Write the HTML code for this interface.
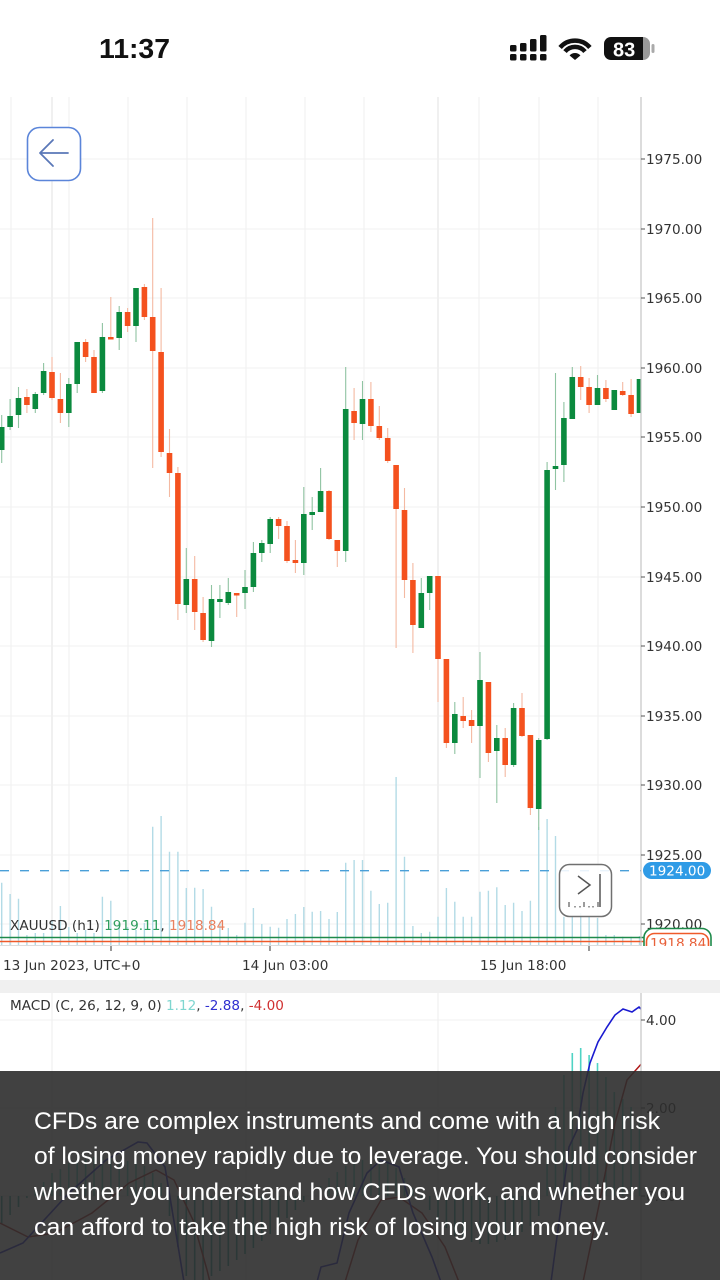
<!DOCTYPE html>
<html><head><meta charset="utf-8"><style>
html,body{margin:0;padding:0;background:#fff;width:720px;height:1280px;overflow:hidden}
svg{display:block}
.ax{font-family:"DejaVu Sans",Verdana,sans-serif;font-size:13.6px;fill:#333}
</style></head><body>
<svg width="720" height="1280" viewBox="0 0 720 1280" xmlns="http://www.w3.org/2000/svg">
<defs>
<clipPath id="cm"><rect x="0" y="97" width="641" height="849"/></clipPath>
<clipPath id="cp"><rect x="0" y="993" width="641" height="287"/></clipPath>
<clipPath id="cr"><rect x="641" y="900" width="79" height="46"/></clipPath>
<clipPath id="cb"><rect x="604" y="37" width="46" height="23" rx="7"/></clipPath>
</defs>
<rect width="720" height="1280" fill="#fff"/>

<!-- main grid -->
<g stroke-width="1">
<path d="M11 97V945M69 97V945M128 97V945M187 97V945M246 97V945M305 97V945M364 97V945M479 97V945M539 97V945M598 97V945" stroke="#efefef"/>
<path d="M52 97V945M438 97V945" stroke="#e2e2e2"/>
<path d="M0 159H641M0 229H641M0 298H641M0 368H641M0 437H641M0 507H641M0 577H641M0 646H641M0 716H641M0 785H641M0 855H641M0 924H641" stroke="#f0f0f0"/>
</g>

<g clip-path="url(#cm)">
<!-- volume -->
<path fill="none" stroke="#b3dbe6" stroke-width="1.4" d="M1.7 945V882.7M10.1 945V894M18.5 945V898.7M26.9 945V935M35.3 945V933M43.6 945V933M52 945V920M60.4 945V906M68.8 945V927M77.2 945V933M85.6 945V930M94 945V933M102.4 945V896.7M110.8 945V900.7M119.2 945V923M127.6 945V927M136 945V930M144.4 945V923M152.7 945V826.7M161.1 945V816M169.5 945V851.7M177.9 945V851.7M186.3 945V888M194.7 945V887.7M203.1 945V889M211.5 945V906.7M219.9 945V921.7M228.3 945V928M236.7 945V935M245 945V922.7M253.4 945V908M261.8 945V924M270.2 945V926.7M278.6 945V927.7M287 945V919M295.4 945V914M303.8 945V907M312.2 945V911.7M320.6 945V911M329 945V919M337.3 945V912M345.7 945V862.7M354.1 945V860M362.5 945V860M370.9 945V890.7M379.3 945V904M387.7 945V902.7M396.1 945V777M404.5 945V856.7M412.9 945V926M421.3 945V933M429.7 945V931.7M438 945V916.7M446.4 945V888M454.8 945V901.7M463.2 945V916.7M471.6 945V916.7M480 945V891.7M488.4 945V890.7M496.8 945V887.3M505.2 945V905M513.6 945V902.7M522 945V911M530.4 945V900.7M538.7 945V827M547.1 945V819M555.5 945V836M563.9 945V916.7M572.3 945V917M580.7 945V913M589.1 945V916.7M597.5 945V918M605.9 945V935M614.3 945V935M622.7 945V936.7M631.1 945V936.7M639.5 945V936"/>
<!-- dashed price line -->
<path d="M0 870.7H641" stroke="#4a9fd8" stroke-width="1.3" stroke-dasharray="9 11"/>
<!-- wicks -->
<path fill="none" stroke="#8fc4a2" stroke-width="1.1" d="M1.7 415V463M10.1 399V430M18.5 387V428M35.3 392V413M43.6 363V395M68.8 378V427M77.2 342V393M102.4 323V393M119.2 306V350M136 288V342M186.3 548V613M211.5 585V647M219.9 585V618M228.3 578V605M245 570V609M253.4 542V592M261.8 540V562M270.2 517V553M303.8 487V575M312.2 497V530M320.6 468V512M345.7 367V562M362.5 381V440M421.3 578V628M429.7 576V610M454.8 702V754M480 652V778M496.8 725V803M513.6 703V767M538.7 738V830M547.1 462V740M555.5 373V490M563.9 402V482M572.3 367V419M597.5 375V405M614.3 390V410M639.5 379V413"/>
<path fill="none" stroke="#f4b9a2" stroke-width="1.1" d="M26.9 389V413M52 357V400M60.4 373V423M85.6 339V362M94 350V393M110.8 297V339M127.6 308V332M144.4 284V320M152.7 218V468M161.1 288V457M169.5 429V497M177.9 467V620M194.7 556V630M203.1 597V642M236.7 593V617M278.6 517V539M287 521V563M295.4 540V573M329 490V540M337.3 540V567M354.1 388V440M370.9 382V432M379.3 406V440M387.7 428V463M396.1 465V648M404.5 488V598M412.9 563V653M438 576V702M446.4 659V748M463.2 697V728M471.6 710V743M488.4 682V762M505.2 728V777M522 693V737M530.4 735V815M580.7 366V400M589.1 378V413M605.9 380V402M622.7 382V396M631.1 379V417"/>
<!-- bodies -->
<path fill="none" stroke="#0b8a3e" stroke-width="5.6" d="M1.7 427V450M10.1 416V427M18.5 398V415M35.3 394V409M43.6 371V393M68.8 384V413M77.2 342V384M102.4 337V391M119.2 312V338M136 288V326M186.3 579V605M211.5 599V641M219.9 599V602M228.3 592V603M245 587V593M253.4 553V587M261.8 543V553M270.2 519V544M303.8 514V563M312.2 512V515M320.6 491V512M345.7 409V551M362.5 399V424M421.3 593V628M429.7 576V593M454.8 714V743M480 680V726M496.8 738V751M513.6 708V765M538.7 740V809M547.1 470V739M555.5 466V469M563.9 418V465M572.3 377V419M597.5 388V405M614.3 390V410M639.5 379V413"/>
<path fill="none" stroke="#f4511e" stroke-width="5.6" d="M26.9 397V405M52 372V398M60.4 399V413M85.6 342V357M94 357V393M110.8 337V339.5M127.6 312V326M144.4 287V317M152.7 317V351M161.1 352V452M169.5 453V473M177.9 473V604M194.7 579V612M203.1 613V640M236.7 593V595.5M278.6 519V526M287 526V561M295.4 560V563M329 491V539M337.3 540V551M354.1 411V423M370.9 399V426M379.3 426V438M387.7 438V461M396.1 465V509M404.5 510V580M412.9 580V625M438 576V659M446.4 659V743M463.2 716V721M471.6 720V726M488.4 682V753M505.2 738V765M522 708V736M530.4 735V808M580.7 377V387M589.1 387V405M605.9 388V399M622.7 391V395M631.1 395V414"/>
</g>

<!-- last price lines -->
<path d="M0 937.5H645" stroke="#1e8a4a" stroke-width="1.6"/>
<path d="M0 941.5H647" stroke="#ef5a2a" stroke-width="1.6"/>
<path d="M0 945.5H641" stroke="#dcdcdc" stroke-width="1"/>
<path d="M111 946V951M270 946V951M589 946V951" stroke="#555" stroke-width="1.2"/>

<!-- price axis -->
<path d="M641 97V946" stroke="#c4c4c4" stroke-width="1.2"/>
<path d="M641 159h4M641 229h4M641 298h4M641 368h4M641 437h4M641 507h4M641 577h4M641 646h4M641 716h4M641 785h4M641 855h4M641 924h4" stroke="#555" stroke-width="1"/>
<g class="ax">
<text x="646" y="164">1975.00</text>
<text x="646" y="234">1970.00</text>
<text x="646" y="303">1965.00</text>
<text x="646" y="373">1960.00</text>
<text x="646" y="442">1955.00</text>
<text x="646" y="512">1950.00</text>
<text x="646" y="582">1945.00</text>
<text x="646" y="651">1940.00</text>
<text x="646" y="721">1935.00</text>
<text x="646" y="790">1930.00</text>
<text x="646" y="860">1925.00</text>
<text x="646" y="929">1920.00</text>
</g>
<rect x="643" y="862" width="68" height="17" rx="8.5" fill="#2f9be6"/>
<text x="649" y="875.5" class="ax" style="fill:#fff">1924.00</text>
<g clip-path="url(#cr)">
<rect x="644" y="928.5" width="67" height="30" rx="9" fill="#fff" stroke="#1e8a4a" stroke-width="1.6"/>
<rect x="646.5" y="933.5" width="62" height="28" rx="8" fill="#fff" stroke="#ef5a2a" stroke-width="1.6"/>
<text x="650" y="948" class="ax" style="fill:#e8613a">1918.84</text>
</g>

<!-- legend -->
<text x="10" y="930" class="ax">XAUUSD (h1) <tspan fill="#2f9e5e">1919.11</tspan>, <tspan fill="#e8805e">1918.84</tspan></text>

<!-- scroll button -->
<rect x="559.5" y="864.5" width="52" height="52" rx="10" fill="rgba(255,255,255,0.88)" stroke="#707070" stroke-width="1.5"/>
<path d="M578 876L590 885L578 894M600 874V907" fill="none" stroke="#555" stroke-width="1.5"/>
<path d="M569 902V907M584 902V907M598 902V907M575 906V907.5M580 906V907.5M589 906V907.5M593 906V907.5" stroke="#666" stroke-width="1.3"/>

<!-- time labels -->
<g class="ax">
<text x="3" y="970">13 Jun 2023, UTC+0</text>
<text x="242" y="970">14 Jun 03:00</text>
<text x="480" y="970">15 Jun 18:00</text>
</g>

<!-- separator band -->
<rect x="0" y="980" width="720" height="13" fill="#f0f0f0"/>

<!-- MACD pane -->
<path d="M52 993V1280M246 993V1280M438 993V1280" stroke="#ececec"/>
<path d="M0 1020H641M0 1108H641M0 1196H641" stroke="#f0f0f0"/>
<g clip-path="url(#cp)">
<path fill="none" stroke="#4fd3c4" stroke-width="1.6" d="M35.3 1196V1190M43.6 1196V1182M52 1196V1173M60.4 1196V1169M68.8 1196V1163M77.2 1196V1161M85.6 1196V1159M94 1196V1157M102.4 1196V1157M110.8 1196V1158M119.2 1196V1162M127.6 1196V1161M136 1196V1161M144.4 1196V1166M152.7 1196V1173M161.1 1196V1183M312.2 1196V1194M320.6 1196V1186M329 1196V1178M337.3 1196V1172M345.7 1196V1166M354.1 1196V1162M362.5 1196V1160M370.9 1196V1158M379.3 1196V1156M387.7 1196V1161M396.1 1196V1168M404.5 1196V1178M412.9 1196V1188M547.1 1196V1156M555.5 1196V1107M563.9 1196V1075M572.3 1196V1053M580.7 1196V1048M589.1 1196V1055M597.5 1196V1063M605.9 1196V1077M614.3 1196V1092M622.7 1196V1099M631.1 1196V1107M639.5 1196V1116"/>
<path fill="none" stroke="#26a69a" stroke-width="1.6" d="M1.7 1196V1224M10.1 1196V1215M18.5 1196V1207M26.9 1196V1198M169.5 1196V1216M177.9 1196V1247M186.3 1196V1276M194.7 1196V1280M203.1 1196V1280M211.5 1196V1276M219.9 1196V1271M228.3 1196V1266M236.7 1196V1260M245 1196V1254M253.4 1196V1248M261.8 1196V1241M270.2 1196V1234M278.6 1196V1226M287 1196V1218M295.4 1196V1210M303.8 1196V1202M421.3 1196V1199M429.7 1196V1210M438 1196V1220M446.4 1196V1228M454.8 1196V1236M463.2 1196V1240M471.6 1196V1242M480 1196V1244M488.4 1196V1244M496.8 1196V1242M505.2 1196V1240M513.6 1196V1236M522 1196V1232M530.4 1196V1226M538.7 1196V1216"/>
<path fill="none" stroke="#b01818" stroke-width="1.5" d="M0 1223L28 1237L55 1233L92 1213L129 1183L156 1170L174 1180L193 1220L207 1270L210 1282M345 1282L358 1240L381 1200L399 1197L422 1213L445 1247L459 1282M583 1282L600 1200L615 1123L627 1080L643 1062"/>
<path fill="none" stroke="#1a1ad0" stroke-width="1.6" d="M0 1253L23 1243L69 1193L106 1160L138 1142L147 1143L165 1167L184 1282M317 1282L321 1267L337 1263L349 1213L367 1173L381 1160L399 1167L413 1213L432 1257L441 1282M551 1282L569 1147L577 1130L583 1093L590 1063L598 1042L607 1027L615 1015L623 1009L632 1012L639 1007L643 1011"/>
</g>
<path d="M641 993V1280" stroke="#c4c4c4" stroke-width="1.2"/>
<path d="M641 1020h4M641 1108h4M641 1196h4" stroke="#555"/>
<g class="ax">
<text x="646" y="1025">4.00</text>
<text x="646" y="1113">2.00</text>
<text x="646" y="1201">0.00</text>
<text x="10" y="1010">MACD (C, 26, 12, 9, 0) <tspan fill="#7fd6d0">1.12</tspan>, <tspan fill="#3030d0">-2.88</tspan>, <tspan fill="#d03030">-4.00</tspan></text>
</g>

<!-- disclaimer overlay -->
<rect x="0" y="1071" width="720" height="209" fill="rgba(44,44,44,0.9)"/>
<g font-family="'Liberation Sans',Arial,sans-serif" font-size="24" fill="#fff">
<text x="34" y="1129" textLength="626" lengthAdjust="spacingAndGlyphs">CFDs are complex instruments and come with a high risk</text>
<text x="34" y="1164" textLength="663" lengthAdjust="spacingAndGlyphs">of losing money rapidly due to leverage. You should consider</text>
<text x="34" y="1200" textLength="651" lengthAdjust="spacingAndGlyphs">whether you understand how CFDs work, and whether you</text>
<text x="34" y="1235" textLength="576" lengthAdjust="spacingAndGlyphs">can afford to take the high risk of losing your money.</text>
</g>

<!-- status bar -->
<text x="99" y="58" font-family="'Liberation Sans',Arial,sans-serif" font-size="27.5" font-weight="bold" fill="#111" textLength="71" lengthAdjust="spacingAndGlyphs">11:37</text>
<g fill="#111">
<rect x="510" y="45" width="6.5" height="6.5" rx="1.5"/>
<rect x="520" y="43" width="6.5" height="8.5" rx="1.5"/>
<rect x="530" y="39" width="6.5" height="12.5" rx="1.5"/>
<rect x="540" y="35" width="6.5" height="16.5" rx="1.5"/>
<rect x="510" y="54" width="6.5" height="6.5" rx="1.5"/>
<rect x="520" y="54" width="6.5" height="6.5" rx="1.5"/>
<rect x="530" y="54" width="6.5" height="6.5" rx="1.5"/>
<rect x="540" y="54" width="6.5" height="6.5" rx="1.5"/>
<path d="M575 60L569.6 55.5A7 7 0 0 1 580.4 55.5Z"/>
</g>
<path d="M565 51.6A13 13 0 0 1 585 51.6M560.1 47.5A19.5 19.5 0 0 1 589.9 47.5" fill="none" stroke="#111" stroke-width="4.5"/>
<g clip-path="url(#cb)">
<rect x="604" y="37" width="39" height="23" fill="#111"/>
<rect x="643" y="37" width="7" height="23" fill="#9a9a9a"/>
</g>
<rect x="651.5" y="44" width="3" height="9" rx="1.5" fill="#aaa"/>
<text x="613" y="56.5" font-family="'Liberation Sans',Arial,sans-serif" font-size="20" font-weight="bold" fill="#fff">83</text>

<!-- back button -->
<rect x="27.5" y="127.5" width="53" height="53" rx="12" fill="#fff" stroke="#5b85d9" stroke-width="1.6"/>
<path d="M68 153H40M53 140L40 153L53 166" fill="none" stroke="#5a78b8" stroke-width="1.8" stroke-linecap="round" stroke-linejoin="round"/>
</svg>
</body></html>
